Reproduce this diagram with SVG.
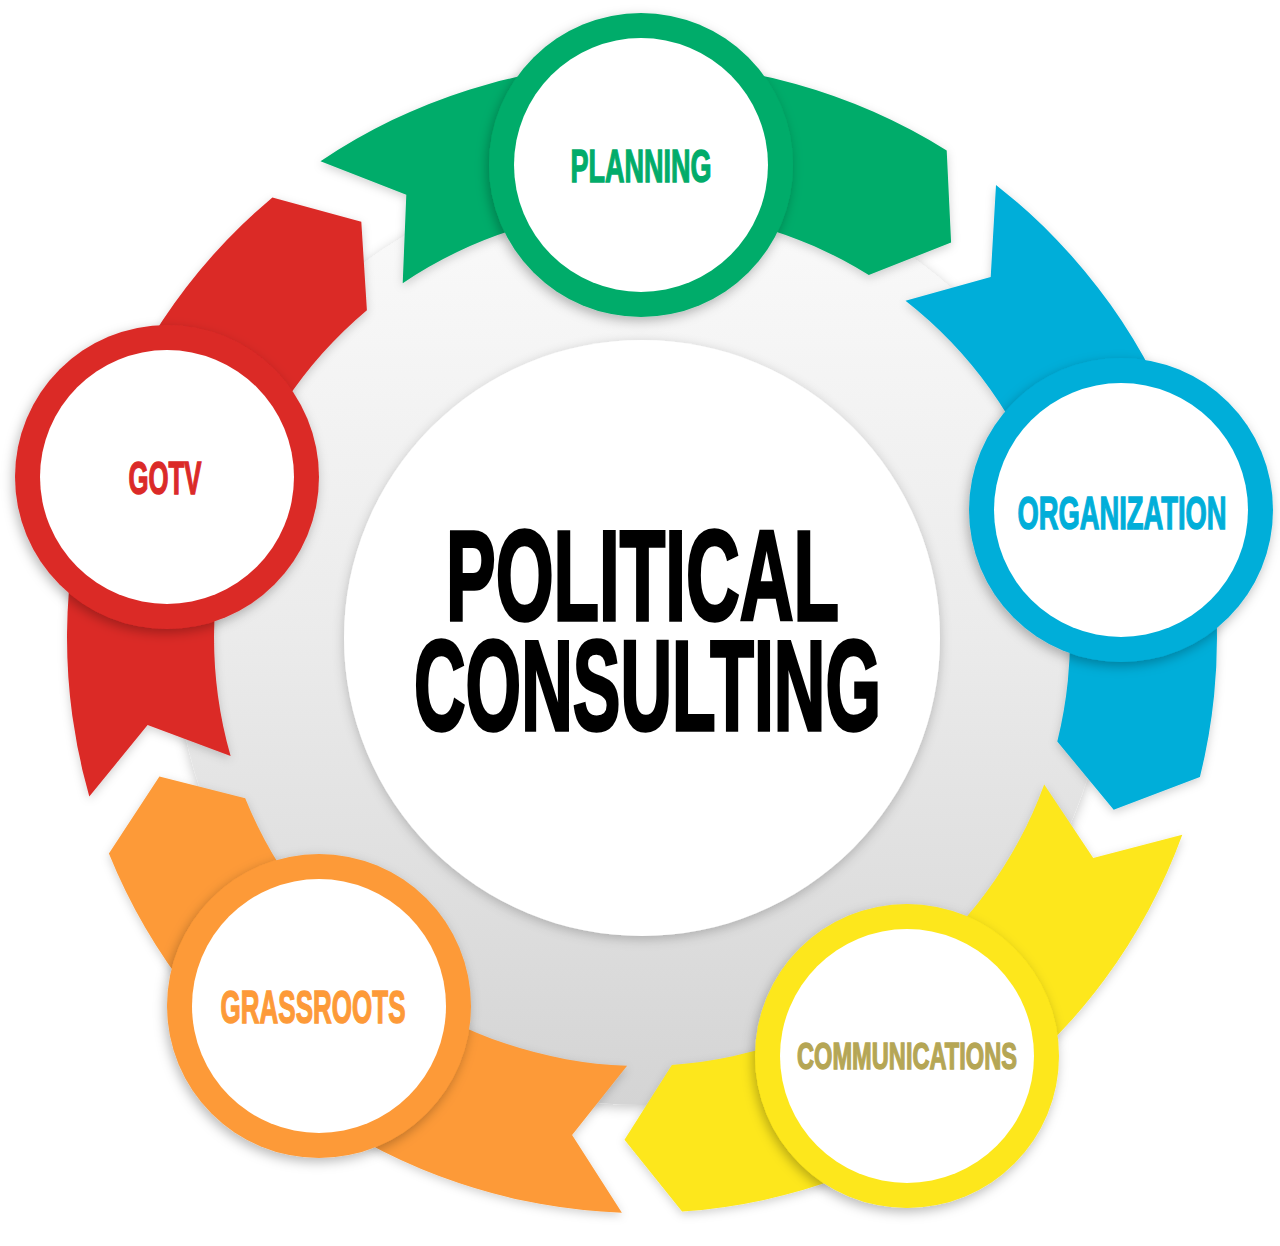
<svg xmlns="http://www.w3.org/2000/svg" width="1280" height="1246" viewBox="0 0 1280 1246">
<defs>
<style>
.lbl{font-family:"Liberation Sans",Arial,sans-serif;font-weight:700;text-anchor:middle;stroke-linejoin:miter}
.big{font-size:127.8px;fill:#000;stroke:#000;stroke-width:3.5}
.nl{font-size:46px;stroke-width:1.4}
.inner{fill:#fff}
</style>
<linearGradient id="greyGrad" x1="0" y1="0" x2="0" y2="1">
<stop offset="0" stop-color="#fbfbfb"/>
<stop offset="0.5" stop-color="#ebebeb"/>
<stop offset="1" stop-color="#d4d4d4"/>
</linearGradient>
<filter id="shSoft" x="-20%" y="-20%" width="140%" height="140%">
<feDropShadow dx="0" dy="3" stdDeviation="6" flood-color="#000" flood-opacity="0.22"/>
</filter>
<filter id="shNode" x="-20%" y="-20%" width="140%" height="140%">
<feDropShadow dx="-2" dy="4" stdDeviation="6" flood-color="#000" flood-opacity="0.28"/>
</filter>
<filter id="shBand" x="-10%" y="-10%" width="120%" height="120%">
<feDropShadow dx="0" dy="3" stdDeviation="5" flood-color="#000" flood-opacity="0.18"/>
</filter>
</defs>

<g id="background-ring">
<circle cx="642" cy="638" r="467" fill="url(#greyGrad)" filter="url(#shSoft)"/>
</g>

<g id="node-center">
<circle cx="642" cy="638" r="298" fill="#fff" filter="url(#shSoft)"/>
<text class="lbl big" transform="scale(0.58,1)"><tspan x="1107.76" y="620" textLength="677.6" lengthAdjust="spacingAndGlyphs">POLITICAL</tspan><tspan x="1116.38" y="730" textLength="805.2" lengthAdjust="spacingAndGlyphs">CONSULTING</tspan></text>
</g>

<g id="connectors" filter="url(#shBand)">
<path id="arrow-planning-organization" fill="#02ac6a" d="M320.5,161.3 A575,575 0 0 1 946.7,150.4 L951.1,242.4 L868.8,275.1 A428,428 0 0 0 402.7,283.2 L406.3,194.8 Z"/>
<path id="arrow-organization-communications" fill="#01aed9" d="M996,184.9 A575,575 0 0 1 1199.9,777.1 L1113.7,809.7 L1057.3,741.5 A428,428 0 0 0 905.5,300.7 L990.7,276.9 Z"/>
<path id="arrow-communications-grassroots" fill="#fde71b" d="M1182.3,834.7 A575,575 0 0 1 682.1,1211.6 L624.5,1139.7 L671.9,1065 A428,428 0 0 0 1044.2,784.4 L1093.2,858.1 Z"/>
<path id="arrow-grassroots-gotv" fill="#fd9a38" d="M621.9,1212.7 A575,575 0 0 1 108.9,853.4 L159.4,776.4 L245.2,798.3 A428,428 0 0 0 627.1,1065.7 L572.1,1135.1 Z"/>
<path id="arrow-gotv-planning" fill="#db2a28" d="M89.3,796.5 A575,575 0 0 1 272.4,197.5 L361.3,221.8 L366.9,310.2 A428,428 0 0 0 230.6,756 L147.6,725.1 Z"/>
</g>

<g id="node-planning">
<circle cx="641" cy="165" r="152" fill="#02ac6a" filter="url(#shNode)"/>
<circle class="inner" cx="641" cy="165" r="127"/>
<text class="lbl nl" transform="translate(641,182) scale(0.6,1)" x="0" y="0" fill="#02ac6a" stroke="#02ac6a" textLength="235" lengthAdjust="spacingAndGlyphs">PLANNING</text>
</g>

<g id="node-organization">
<circle cx="1121" cy="510" r="152" fill="#01aed9" filter="url(#shNode)"/>
<circle class="inner" cx="1121" cy="510" r="127"/>
<text class="lbl nl" transform="translate(1122,528.6) scale(0.5863,1)" x="0" y="0" fill="#01aed9" stroke="#01aed9" textLength="356.5" lengthAdjust="spacingAndGlyphs">ORGANIZATION</text>
</g>

<g id="node-communications">
<circle cx="907" cy="1056" r="152" fill="#fde71b" filter="url(#shNode)"/>
<circle class="inner" cx="907" cy="1056" r="127"/>
<text class="lbl" transform="translate(907,1069.3) scale(0.64,1)" x="0" y="0" fill="#b5a655" stroke="#b5a655" stroke-width="1.4" font-size="37.5" textLength="343.7" lengthAdjust="spacingAndGlyphs">COMMUNICATIONS</text>
</g>

<g id="node-grassroots">
<circle cx="319" cy="1006" r="152" fill="#fd9a38" filter="url(#shNode)"/>
<circle class="inner" cx="319" cy="1006" r="127"/>
<text class="lbl nl" transform="translate(313,1022.6) scale(0.578,1)" x="0" y="0" fill="#fd9a38" stroke="#fd9a38" textLength="320" lengthAdjust="spacingAndGlyphs">GRASSROOTS</text>
</g>

<g id="node-gotv">
<circle cx="167" cy="477" r="152" fill="#db2a28" filter="url(#shNode)"/>
<circle class="inner" cx="167" cy="477" r="127"/>
<text class="lbl nl" transform="translate(165,493.5) scale(0.5725,1)" x="0" y="0" fill="#db2a28" stroke="#db2a28" textLength="127.5" lengthAdjust="spacingAndGlyphs">GOTV</text>
</g>
</svg>
